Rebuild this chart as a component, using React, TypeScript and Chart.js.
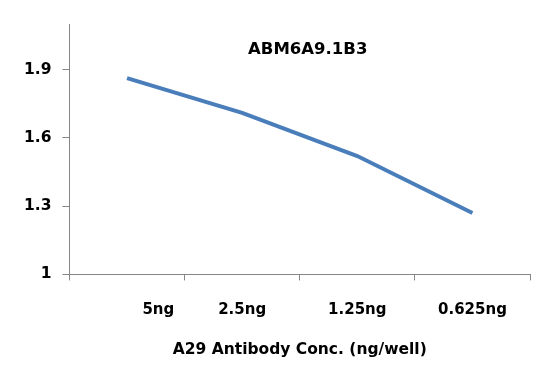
import React, { useEffect, useRef } from "react";
import { Chart, registerables } from "chart.js";

Chart.register(...registerables);

const chartTitle = "ABM6A9.1B3";
const xAxisTitle = "A29 Antibody Conc. (ng/well)";
const categories = ["5ng", "2.5ng", "1.25ng", "0.625ng"];
const values = [1.862, 1.71, 1.52, 1.27];
const yTicks = [1, 1.3, 1.6, 1.9];
const yMin = 1;
const yMax = 2.1;

const FONT = "'DejaVu Sans', Verdana, sans-serif";
const AXIS_GRAY = "#868686";
const LINE_BLUE = "#4A7EBB";

const titlePlugin = {
  id: "insideTitle",
  afterDraw(chart: any) {
    const { ctx, chartArea } = chart;
    ctx.save();
    ctx.font = `bold 16.5px ${FONT}`;
    ctx.fillStyle = "#000";
    ctx.textAlign = "center";
    ctx.textBaseline = "middle";
    const cx = (chartArea.left + chartArea.right) / 2 + 8;
    ctx.fillText(chartTitle, cx, chartArea.top + 26);
    ctx.restore();
  },
};

export default function App() {
  const ref = useRef<HTMLCanvasElement | null>(null);

  useEffect(() => {
    document.body.style.margin = "0";
    const canvas = ref.current;
    if (!canvas) return;
    const chart = new Chart(canvas, {
      type: "line",
      data: {
        labels: categories,
        datasets: [
          {
            data: values,
            borderColor: LINE_BLUE,
            borderWidth: 4,
            pointRadius: 0,
            tension: 0,
            fill: false,
          },
        ],
      },
      options: {
        animation: false,
        responsive: false,
        layout: { padding: { top: 24, right: 25, left: 13, bottom: 28 } },
        plugins: {
          legend: { display: false },
          title: { display: false },
          tooltip: { enabled: false },
        },
        scales: {
          x: {
            type: "category",
            offset: true,
            border: { display: true, color: AXIS_GRAY, width: 1 },
            grid: {
              offset: true,
              drawOnChartArea: false,
              drawTicks: true,
              tickLength: 6,
              color: AXIS_GRAY,
            },
            ticks: {
              padding: 21,
              color: "#000",
              font: { family: FONT, size: 15, weight: "bold" },
              maxRotation: 0,
              autoSkip: false,
              callback: function (this: any, v: any, i: number) {
                const label = categories[i];
                return i === 0 ? "\u2007\u2007\u2007\u2007\u2007\u2007" + label : label;
              },
            },
            title: {
              display: true,
              text: xAxisTitle,
              color: "#000",
              font: { family: FONT, size: 15.5, weight: "bold" },
              padding: { top: 0, bottom: 0 },
            },
          },
          y: {
            min: yMin,
            max: yMax,
            border: { display: true, color: AXIS_GRAY, width: 1 },
            grid: {
              drawOnChartArea: false,
              drawTicks: true,
              tickLength: 7,
              color: AXIS_GRAY,
            },
            afterBuildTicks: (scale: any) => {
              scale.ticks = yTicks.map((v) => ({ value: v }));
            },
            ticks: {
              padding: 11,
              color: "#000",
              font: { family: FONT, size: 15.5, weight: "bold" },
              callback: (v: any) => String(Math.round(Number(v) * 10) / 10),
            },
          },
        },
      },
      plugins: [titlePlugin],
    });
    return () => chart.destroy();
  }, []);

  return (
    <div style={{ width: 555, height: 387, background: "#fff" }}>
      <canvas ref={ref} width={555} height={387} />
    </div>
  );
}
